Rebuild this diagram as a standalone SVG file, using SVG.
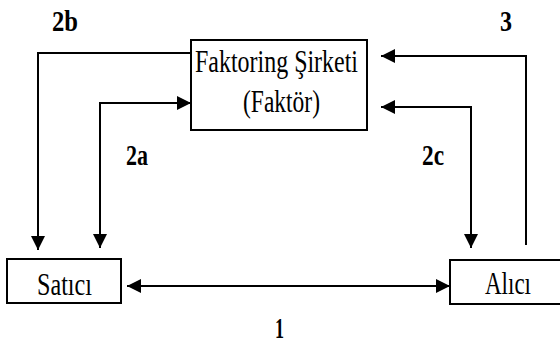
<svg xmlns="http://www.w3.org/2000/svg" width="560" height="343" viewBox="0 0 560 343">
<defs>
<marker id="ah" viewBox="0 0 14 14" refX="14" refY="7" markerWidth="14" markerHeight="14" markerUnits="userSpaceOnUse" orient="auto-start-reverse">
<path d="M0,0 L14,7 L0,14 Z" fill="#000"/>
</marker>
<style>
.box{fill:#fff;stroke:#000;stroke-width:2}
.t{font-family:"Liberation Serif","Times New Roman",serif;font-size:31px;fill:#000}
.lb{font-family:"Liberation Serif","Times New Roman",serif;font-size:29px;font-weight:bold;fill:#000}
.c{fill:none;stroke:#000;stroke-width:2}
</style>
</defs>
<rect width="560" height="343" fill="#fff"/>
<g id="connectors">
<path class="c" d="M191,53 H38 V250" marker-end="url(#ah)"/>
<path class="c" d="M100,248 V103 H191" marker-start="url(#ah)" marker-end="url(#ah)"/>
<path class="c" d="M127,286 H450" marker-start="url(#ah)" marker-end="url(#ah)"/>
<path class="c" d="M381,107 H471 V248" marker-start="url(#ah)" marker-end="url(#ah)"/>
<path class="c" d="M526,245 V56 H381" marker-end="url(#ah)"/>
</g>
<g id="faktor">
<rect class="box" x="191" y="40" width="176" height="90"/>
<text class="t" x="195" y="72" textLength="163" lengthAdjust="spacingAndGlyphs">Faktoring Şirketi</text>
<text class="t" x="243" y="112" textLength="77" lengthAdjust="spacingAndGlyphs">(Faktör)</text>
</g>
<g id="satici">
<rect class="box" x="7" y="259" width="114" height="44"/>
<text class="t" x="37" y="295" textLength="55" lengthAdjust="spacingAndGlyphs">Satıcı</text>
</g>
<g id="alici">
<rect class="box" x="450" y="260" width="120" height="44"/>
<text class="t" x="485" y="294" textLength="46" lengthAdjust="spacingAndGlyphs">Alıcı</text>
</g>
<g id="labels">
<text class="lb" x="52" y="31" textLength="26" lengthAdjust="spacingAndGlyphs">2b</text>
<text class="lb" x="126" y="165" textLength="22" lengthAdjust="spacingAndGlyphs">2a</text>
<text class="lb" x="422" y="165" textLength="22" lengthAdjust="spacingAndGlyphs">2c</text>
<text class="lb" x="500" y="31" textLength="12" lengthAdjust="spacingAndGlyphs">3</text>
<text class="lb" x="275" y="338" textLength="9" lengthAdjust="spacingAndGlyphs">1</text>
</g>
</svg>
